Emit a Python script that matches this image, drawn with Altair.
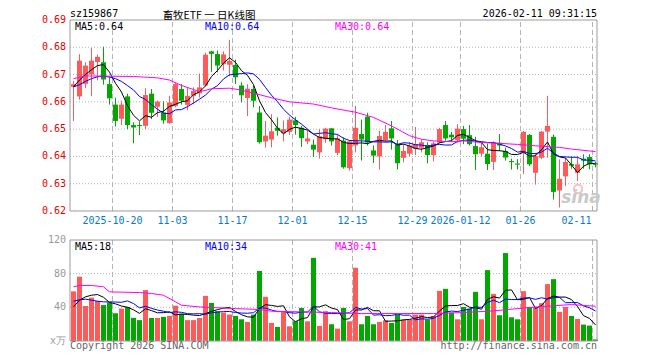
import altair as alt
import pandas as pd

# ---------------- data ----------------
opens = [0.6655, 0.6620, 0.6666, 0.6700, 0.6746, 0.6745, 0.6665, 0.6590, 0.6538, 0.6620,
         0.6515, 0.6513, 0.6512, 0.6630, 0.6582, 0.6561, 0.6522, 0.6585, 0.6647, 0.6589,
         0.6622, 0.6631, 0.6660, 0.6785, 0.6775, 0.6738, 0.6736, 0.6735, 0.6660, 0.6614,
         0.6647, 0.6561, 0.6455, 0.6462, 0.6505, 0.6485, 0.6490, 0.6532, 0.6505, 0.6455,
         0.6443, 0.6415, 0.6463, 0.6503, 0.6413, 0.6458, 0.6357, 0.6440, 0.6482, 0.6546,
         0.6422, 0.6400, 0.6460, 0.6503, 0.6445, 0.6395, 0.6410, 0.6428, 0.6432, 0.6442,
         0.6405, 0.6451, 0.6515, 0.6480, 0.6460, 0.6500, 0.6478, 0.6438, 0.6410, 0.6410,
         0.6380, 0.6450, 0.6420, 0.6381, 0.6372, 0.6413, 0.6479, 0.6340, 0.6395, 0.6491,
         0.6472, 0.6275, 0.6327, 0.6372, 0.6340, 0.6392, 0.6398, 0.6376]
highs = [0.6677, 0.6775, 0.6745, 0.6798, 0.6773, 0.6802, 0.6690, 0.6615, 0.6604, 0.6630,
         0.6525, 0.6528, 0.6650, 0.6647, 0.6605, 0.6602, 0.6622, 0.6672, 0.6665, 0.6653,
         0.6653, 0.6704, 0.6780, 0.6787, 0.6788, 0.6785, 0.6827, 0.6755, 0.6672, 0.6665,
         0.6660, 0.6585, 0.6530, 0.6555, 0.6543, 0.6532, 0.6545, 0.6545, 0.6512, 0.6495,
         0.6462, 0.6500, 0.6505, 0.6505, 0.6480, 0.6470, 0.6460, 0.6585, 0.6535, 0.6560,
         0.6440, 0.6494, 0.6515, 0.6530, 0.6460, 0.6445, 0.6452, 0.6508, 0.6462, 0.6452,
         0.6455, 0.6505, 0.6530, 0.6490, 0.6518, 0.6512, 0.6515, 0.6472, 0.6450, 0.6447,
         0.6455, 0.6482, 0.6432, 0.6392, 0.6390, 0.6493, 0.6482, 0.6413, 0.6493, 0.6622,
         0.6480, 0.6389, 0.6395, 0.6400, 0.6400, 0.6408, 0.6408, 0.6380]
lows = [0.6530, 0.6608, 0.6650, 0.6621, 0.6679, 0.6663, 0.6590, 0.6510, 0.6515, 0.6500,
        0.6448, 0.6478, 0.6500, 0.6537, 0.6545, 0.6520, 0.6520, 0.6580, 0.6590, 0.6569,
        0.6591, 0.6616, 0.6655, 0.6710, 0.6708, 0.6715, 0.6694, 0.6665, 0.6598, 0.6548,
        0.6580, 0.6447, 0.6432, 0.6433, 0.6476, 0.6455, 0.6478, 0.6480, 0.6435, 0.6445,
        0.6398, 0.6392, 0.6450, 0.6440, 0.6405, 0.6355, 0.6348, 0.6415, 0.6385, 0.6440,
        0.6376, 0.6352, 0.6455, 0.6425, 0.6352, 0.6378, 0.6400, 0.6405, 0.6415, 0.6375,
        0.6382, 0.6448, 0.6458, 0.6455, 0.6450, 0.6445, 0.6440, 0.6350, 0.6400, 0.6350,
        0.6350, 0.6420, 0.6385, 0.6352, 0.6352, 0.6336, 0.6365, 0.6297, 0.6390, 0.6395,
        0.6242, 0.6213, 0.6291, 0.6355, 0.6310, 0.6355, 0.6353, 0.6360]
closes = [0.6665, 0.6751, 0.6733, 0.6751, 0.6765, 0.6682, 0.6613, 0.6530, 0.6590, 0.6515,
          0.6506, 0.6511, 0.6625, 0.6560, 0.6601, 0.6532, 0.6598, 0.6665, 0.6604, 0.6622,
          0.6640, 0.6653, 0.6773, 0.6776, 0.6733, 0.6774, 0.6750, 0.6690, 0.6624, 0.6648,
          0.6604, 0.6452, 0.6476, 0.6492, 0.6494, 0.6500, 0.6535, 0.6515, 0.6467, 0.6466,
          0.6425, 0.6474, 0.6502, 0.6455, 0.6466, 0.6360, 0.6455, 0.6505, 0.6462, 0.6451,
          0.6403, 0.6475, 0.6490, 0.6466, 0.6375, 0.6420, 0.6440, 0.6445, 0.6452, 0.6405,
          0.6448, 0.6500, 0.6466, 0.6470, 0.6502, 0.6465, 0.6445, 0.6408, 0.6434, 0.6372,
          0.6450, 0.6440, 0.6396, 0.6379, 0.6370, 0.6490, 0.6371, 0.6401, 0.6491, 0.6512,
          0.6270, 0.6318, 0.6380, 0.6366, 0.6371, 0.6385, 0.6371, 0.6370]
volumes = [59.0, 76.4, 41.6, 51.5, 47.5, 42.7, 46.0, 33.0, 38.5, 40.3,
           27.5, 24.8, 60.5, 27.3, 27.3, 28.7, 29.8, 42.0, 32.3, 24.8,
           24.8, 27.3, 53.6, 45.3, 35.4, 33.8, 31.4, 29.8, 25.8, 22.7,
           31.4, 83.3, 52.5, 21.5, 16.7, 35.4, 17.5, 23.4, 39.3, 23.4,
           98.8, 17.9, 35.4, 19.9, 14.7, 39.3, 23.4, 87.0, 19.9, 29.8,
           19.9, 22.7, 24.6, 21.5, 31.4, 25.4, 25.4, 31.4, 31.4, 25.4,
           29.8, 59.6, 62.0, 33.8, 25.8, 40.5, 38.5, 58.4, 25.8, 84.2,
           56.0, 30.6, 104.5, 28.2, 25.8, 59.2, 40.5, 40.1, 44.9, 67.6,
           73.5, 34.6, 40.5, 29.8, 26.2, 19.5, 18.3, 1.8]

# averages at the left edge depend on days before the first candle: read as drawn
ma5_price_head = [0.6655, 0.6680, 0.6700, 0.6718]
ma10_price_head = [0.6655, 0.6663, 0.6675, 0.6685, 0.6692, 0.6694, 0.6691, 0.6685, 0.6675]
ma5_vol_head = [40.5, 48.5, 52.5, 54.4]
ma10_vol_head = [47.3, 48.9, 49.7, 48.5, 47.3, 46.5, 46.5, 46.3, 46.0]

ma30_price_idx = [0, 2, 10, 14, 16, 18, 20, 21, 23, 26, 28, 30, 33, 36, 40, 43, 47, 50,
                  53, 56, 58, 60, 63, 65, 68, 71, 74, 77, 81, 83, 86, 87]
ma30_price_val = [0.6685, 0.6695, 0.6693, 0.6688, 0.6680, 0.6660, 0.6645, 0.6637, 0.6648,
                  0.6650, 0.6643, 0.6632, 0.6615, 0.6600, 0.6592, 0.6578, 0.6562, 0.6543,
                  0.6512, 0.6476, 0.6463, 0.6457, 0.6454, 0.6457, 0.6451, 0.6448, 0.6444,
                  0.6439, 0.6433, 0.6427, 0.6420, 0.6418]
ma30_vol_idx = [0, 1, 3, 5, 6, 8, 11, 13, 15, 17, 18, 21, 27, 31, 33, 38, 43, 48, 54, 60,
                65, 70, 74, 78, 83, 87]
ma30_vol_val = [64.4, 66.0, 66.0, 64.4, 58.4, 58.0, 57.6, 56.4, 54.4, 46.5, 42.5, 40.5,
                38.5, 37.4, 35.4, 34.6, 33.8, 32.6, 32.6, 32.6, 33.8, 35.8, 38.5, 40.9,
                43.3, 41.3]

tick_labels = ["2025-10-20", "11-03", "11-17", "12-01", "12-15", "12-29",
               "2026-01-12", "01-26", "02-11"]
tick_index = [7, 17, 27, 37, 47, 57, 65, 75, 87]
price_ticks = [0.62, 0.63, 0.64, 0.65, 0.66, 0.67, 0.68, 0.69]
vol_ticks = [0, 40, 80, 120]
vol_tick_labels = ["x万", "40", "80", "120"]

title_text = "畜牧ETF 一 日K线图"
code_text = "sz159867"
time_text = "2026-02-11 09:31:15"
price_ma_labels = ["MA5:0.64", "MA10:0.64", "MA30:0.64"]
vol_ma_labels = ["MA5:18", "MA10:34", "MA30:41"]
copyright_text = "Copyright 2026 SINA.COM"
url_text = "http://finance.sina.com.cn"
logo_text = "sina"

# ---------------- styling ----------------
RED = "#ff5a5a"
GREEN = "#00a800"
MA_COLORS = ["#000000", "#0000ff", "#ff00ff"]
GRID = "#b4b4b4"
FRAME = "#9a9a9a"
MONO = "DejaVu Sans Mono"

W, H = 527, 321
PH = 191
XMAX = W / 6.0
LBL_X = [5, 135, 265]

xs = alt.Scale(domain=[0, XMAX], nice=False, zero=False)
ps = alt.Scale(domain=[0.62, 0.69], range=[PH, 0], nice=False, zero=False)
vs = alt.Scale(domain=[0, 120], range=[H, 220], nice=False, zero=False)
cs = alt.Scale(domain=["up", "down"], range=[RED, GREEN])

n = len(closes)
df = pd.DataFrame({"k": list(range(n)), "o": opens, "h": highs, "l": lows,
                   "c": closes, "v": volumes})
df["xc"] = df["k"] + 0.5 + 0.5 / 6
df["x1"] = df["k"] + 1 / 6
df["x2"] = df["k"] + 1.0
df["dir"] = ["up" if c >= o else "down" for o, c in zip(opens, closes)]
df["bt"] = df[["o", "c"]].max(axis=1)
df["bb"] = df[["o", "c"]].min(axis=1)
thin = (df["bt"] - df["bb"]) < 0.0004
df.loc[thin, "bt"] = df.loc[thin, "bb"] + 0.0004
df["zero"] = 0.0


def moving(series, window, head):
    m = series.rolling(window).mean()
    m.iloc[:len(head)] = head
    return m


df["ma5"] = moving(df["c"], 5, ma5_price_head)
df["ma10"] = moving(df["c"], 10, ma10_price_head)
df["vma5"] = moving(df["v"], 5, ma5_vol_head)
df["vma10"] = moving(df["v"], 10, ma10_vol_head)

ma30p = pd.DataFrame({"x": [i + 0.5 + 0.5 / 6 for i in ma30_price_idx], "y": ma30_price_val})
ma30v = pd.DataFrame({"x": [i + 0.5 + 0.5 / 6 for i in ma30_vol_idx], "y": ma30_vol_val})

X = lambda f: alt.X(f, scale=xs, axis=None)
YP = lambda f: alt.Y(f, scale=ps, axis=None)
YV = lambda f: alt.Y(f, scale=vs, axis=None)
COL = alt.Color("dir:N", scale=cs, legend=None)

layers = []

# grid lines
hp = pd.DataFrame({"p": [0.63, 0.64, 0.65, 0.66, 0.67, 0.68]})
layers.append(alt.Chart(hp).mark_rule(color=GRID, strokeDash=[1, 2], strokeWidth=1)
              .encode(y=YP("p:Q"), x=alt.value(0), x2=alt.value(W)))
hv = pd.DataFrame({"v": [40, 80]})
layers.append(alt.Chart(hv).mark_rule(color=GRID, strokeDash=[1, 2], strokeWidth=1)
              .encode(y=YV("v:Q"), x=alt.value(0), x2=alt.value(W)))
vg = pd.DataFrame({"g": [t + 0.5 / 6 for t in tick_index], "plo": 0.62, "phi": 0.69,
                   "vlo": 0, "vhi": 120})
layers.append(alt.Chart(vg).mark_rule(color=GRID, strokeDash=[5, 3], strokeWidth=1)
              .encode(x=X("g:Q"), y=YP("plo:Q"), y2="phi:Q"))
layers.append(alt.Chart(vg).mark_rule(color=GRID, strokeDash=[5, 3], strokeWidth=1)
              .encode(x=X("g:Q"), y=YV("vlo:Q"), y2="vhi:Q"))

# candles
layers.append(alt.Chart(df).mark_rule(strokeWidth=1)
              .encode(x=X("xc:Q"), y=YP("l:Q"), y2="h:Q", color=COL))
layers.append(alt.Chart(df).mark_rect()
              .encode(x=X("x1:Q"), x2="x2:Q", y=YP("bb:Q"), y2="bt:Q", color=COL))

# price moving averages
layers.append(alt.Chart(df).mark_line(color=MA_COLORS[0], strokeWidth=1)
              .encode(x=X("xc:Q"), y=YP("ma5:Q")))
layers.append(alt.Chart(df).mark_line(color=MA_COLORS[1], strokeWidth=1)
              .encode(x=X("xc:Q"), y=YP("ma10:Q")))
layers.append(alt.Chart(ma30p).mark_line(color=MA_COLORS[2], strokeWidth=1)
              .encode(x=X("x:Q"), y=YP("y:Q")))

# volume bars and averages
layers.append(alt.Chart(df).mark_rect()
              .encode(x=X("x1:Q"), x2="x2:Q", y=YV("v:Q"), y2="zero:Q", color=COL))
layers.append(alt.Chart(df).mark_line(color=MA_COLORS[0], strokeWidth=1)
              .encode(x=X("xc:Q"), y=YV("vma5:Q")))
layers.append(alt.Chart(df).mark_line(color=MA_COLORS[1], strokeWidth=1)
              .encode(x=X("xc:Q"), y=YV("vma10:Q")))
layers.append(alt.Chart(ma30v).mark_line(color=MA_COLORS[2], strokeWidth=1)
              .encode(x=X("x:Q"), y=YV("y:Q")))

# frames
fr = pd.DataFrame({"x0": [0.0], "x1": [XMAX], "p0": [0.62], "p1": [0.69], "v0": [0], "v1": [120]})
layers.append(alt.Chart(fr).mark_rect(fillOpacity=0, stroke=FRAME, strokeWidth=1)
              .encode(x=X("x0:Q"), x2="x1:Q", y=YP("p0:Q"), y2="p1:Q"))
layers.append(alt.Chart(fr).mark_rect(fillOpacity=0, stroke=FRAME, strokeWidth=1)
              .encode(x=X("x0:Q"), x2="x1:Q", y=YV("v0:Q"), y2="v1:Q"))

# axis labels
pl = pd.DataFrame({"p": price_ticks, "t": ["%.2f" % p for p in price_ticks]})
layers.append(alt.Chart(pl).mark_text(align="right", baseline="middle", font=MONO,
                                      fontSize=10, color="#e60000")
              .encode(x=alt.value(-4), y=YP("p:Q"), text="t:N"))
vl = pd.DataFrame({"v": vol_ticks, "t": vol_tick_labels})
layers.append(alt.Chart(vl).mark_text(align="right", baseline="middle", font=MONO,
                                      fontSize=10, color="#999999")
              .encode(x=alt.value(-4), y=YV("v:Q"), text="t:N"))
tl = pd.DataFrame({"g": [t + 0.5 / 6 for t in tick_index], "t": tick_labels,
                   "a": ["c"] * (len(tick_index) - 1) + ["r"]})
layers.append(alt.Chart(tl[tl["a"] == "c"]).mark_text(align="center", baseline="middle",
                                                      font=MONO, fontSize=10, color="#0a78d0")
              .encode(x=X("g:Q"), y=alt.value(201), text="t:N"))
layers.append(alt.Chart(tl[tl["a"] == "r"]).mark_text(align="right", baseline="middle",
                                                      font=MONO, fontSize=10, color="#0a78d0", dx=-1)
              .encode(x=X("g:Q"), y=alt.value(201), text="t:N"))


def txt(s, x, y, color="#000000", size=10, align="left", font=MONO, baseline="middle", **kw):
    return (alt.Chart(pd.DataFrame({"t": [s]}))
            .mark_text(align=align, baseline=baseline, font=font, fontSize=size,
                       color=color, **kw)
            .encode(x=alt.value(x), y=alt.value(y), text="t:N"))


layers.append(txt(title_text, 139, -9.5, size=10.5, align="center",
                  font="Noto Sans CJK SC", baseline="top"))
layers.append(txt(code_text, 0, -6.5))
layers.append(txt(time_text, W, -6.5, align="right"))
for s, x, c in zip(price_ma_labels, LBL_X, MA_COLORS):
    layers.append(txt(s, x, 7, color=c))
for s, x, c in zip(vol_ma_labels, LBL_X, MA_COLORS):
    layers.append(txt(s, x, 226.7, color=c))
layers.append(txt(copyright_text, 0, 325.7, color="#666666"))
layers.append(txt(url_text, W, 325.7, color="#666666", align="right"))

# sina watermark
layers.append(alt.Chart(pd.DataFrame({"t": [logo_text]}))
              .mark_point(shape="circle", size=70, filled=False, color="#f3a8a8", strokeWidth=2)
              .encode(x=alt.value(508), y=alt.value(169)))
layers.append(txt(logo_text, 511, 178, color="#c9c9c9", size=17, align="center",
                  font="DejaVu Sans", fontWeight="bold", fontStyle="italic"))

chart = (alt.layer(*layers)
         .resolve_scale(y="independent")
         .properties(width=W, height=H,
                     autosize=alt.AutoSizeParams(type="none"),
                     padding={"left": 62, "top": 12, "right": 10, "bottom": 11},
                     background="white")
         .configure_view(strokeWidth=0))

chart.save("out.html", embed_options={"renderer": "svg", "actions": False})
